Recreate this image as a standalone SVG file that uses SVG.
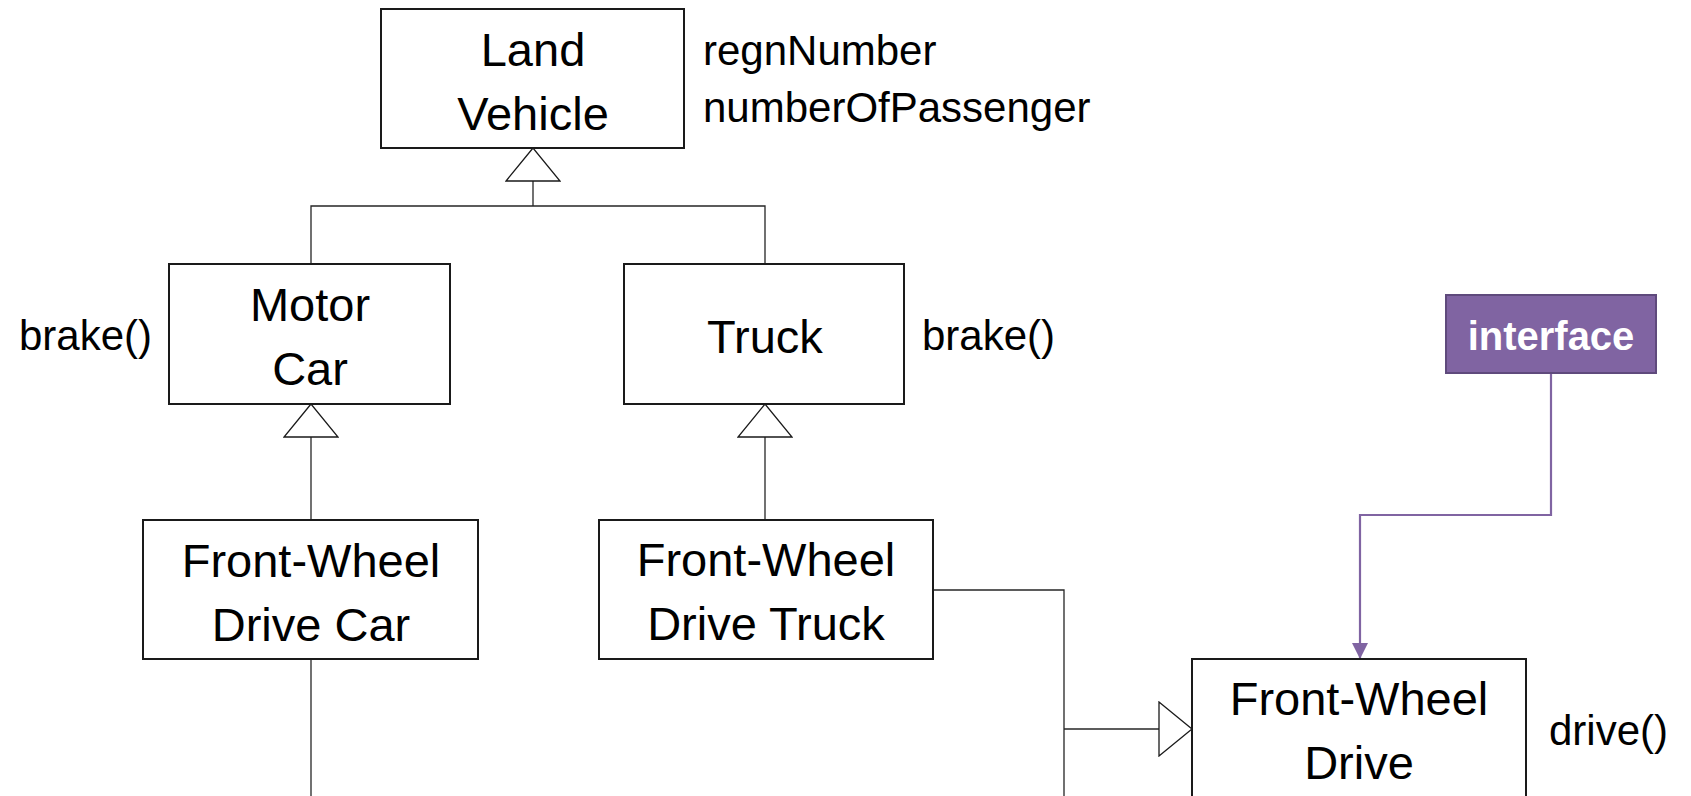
<svg xmlns="http://www.w3.org/2000/svg" width="1691" height="796" viewBox="0 0 1691 796">
<style>
  .box{fill:#fff;stroke:#1a1a1a;stroke-width:2}
  .lbl{font-family:"Liberation Sans",Arial,sans-serif;font-size:47px;fill:#000;text-anchor:middle}
  .side{font-family:"Liberation Sans",Arial,sans-serif;font-size:42px;fill:#000}
  .conn{fill:none;stroke:#262626;stroke-width:1.3}
  .pconn{fill:none;stroke:#8064A2;stroke-width:2.2}
  .ibox{fill:#8064A2;stroke:#5F4A7C;stroke-width:2}
  .itxt{font-family:"Liberation Sans",Arial,sans-serif;font-size:40px;font-weight:bold;fill:#fff;text-anchor:middle}
</style>
<defs>
  <marker id="gen" viewBox="0 0 35 56" refX="34" refY="28" markerWidth="35" markerHeight="56" markerUnits="userSpaceOnUse" orient="auto">
    <path d="M34,28 L1,1 L1,55 Z" fill="#fff" stroke="#1a1a1a" stroke-width="1.3"/>
  </marker>
  <marker id="arr" viewBox="0 0 16 16" refX="16" refY="8" markerWidth="16" markerHeight="16" markerUnits="userSpaceOnUse" orient="auto">
    <path d="M0,0 L16,8 L0,16 Z" fill="#8064A2"/>
  </marker>
</defs>
<g id="connectors">
  <path class="conn" d="M311,264 V206 H765 V264"/>
  <path class="conn" d="M533,206 V148" marker-end="url(#gen)"/>
  <path class="conn" d="M311,520 V404" marker-end="url(#gen)"/>
  <path class="conn" d="M765,520 V404" marker-end="url(#gen)"/>
  <path class="conn" d="M311,659 V796"/>
  <path class="conn" d="M933,590 H1064 V796"/>
  <path class="conn" d="M1064,729 H1192" marker-end="url(#gen)"/>
  <path class="pconn" d="M1551,373 V515 H1360 V659" marker-end="url(#arr)"/>
</g>
<g id="land-vehicle">
  <rect class="box" x="381" y="9" width="303" height="139"/>
  <text class="lbl" x="533" y="66">Land</text>
  <text class="lbl" x="533" y="130">Vehicle</text>
  <text class="side" x="703" y="65">regnNumber</text>
  <text class="side" x="703" y="122">numberOfPassenger</text>
</g>
<g id="motor-car">
  <rect class="box" x="169" y="264" width="281" height="140"/>
  <text class="lbl" x="310" y="321">Motor</text>
  <text class="lbl" x="310" y="385">Car</text>
  <text class="side" x="19" y="350">brake()</text>
</g>
<g id="truck">
  <rect class="box" x="624" y="264" width="280" height="140"/>
  <text class="lbl" x="765" y="353">Truck</text>
  <text class="side" x="922" y="350">brake()</text>
</g>
<g id="fwd-car">
  <rect class="box" x="143" y="520" width="335" height="139"/>
  <text class="lbl" x="311" y="577">Front-Wheel</text>
  <text class="lbl" x="311" y="641">Drive Car</text>
</g>
<g id="fwd-truck">
  <rect class="box" x="599" y="520" width="334" height="139"/>
  <text class="lbl" x="766" y="576">Front-Wheel</text>
  <text class="lbl" x="766" y="640">Drive Truck</text>
</g>
<g id="interface">
  <rect class="ibox" x="1446" y="295" width="210" height="78"/>
  <text class="itxt" x="1551" y="350">interface</text>
</g>
<g id="fwd">
  <rect class="box" x="1192" y="659" width="334" height="160"/>
  <text class="lbl" x="1359" y="715">Front-Wheel</text>
  <text class="lbl" x="1359" y="779">Drive</text>
  <text class="side" x="1549" y="745">drive()</text>
</g>
</svg>
